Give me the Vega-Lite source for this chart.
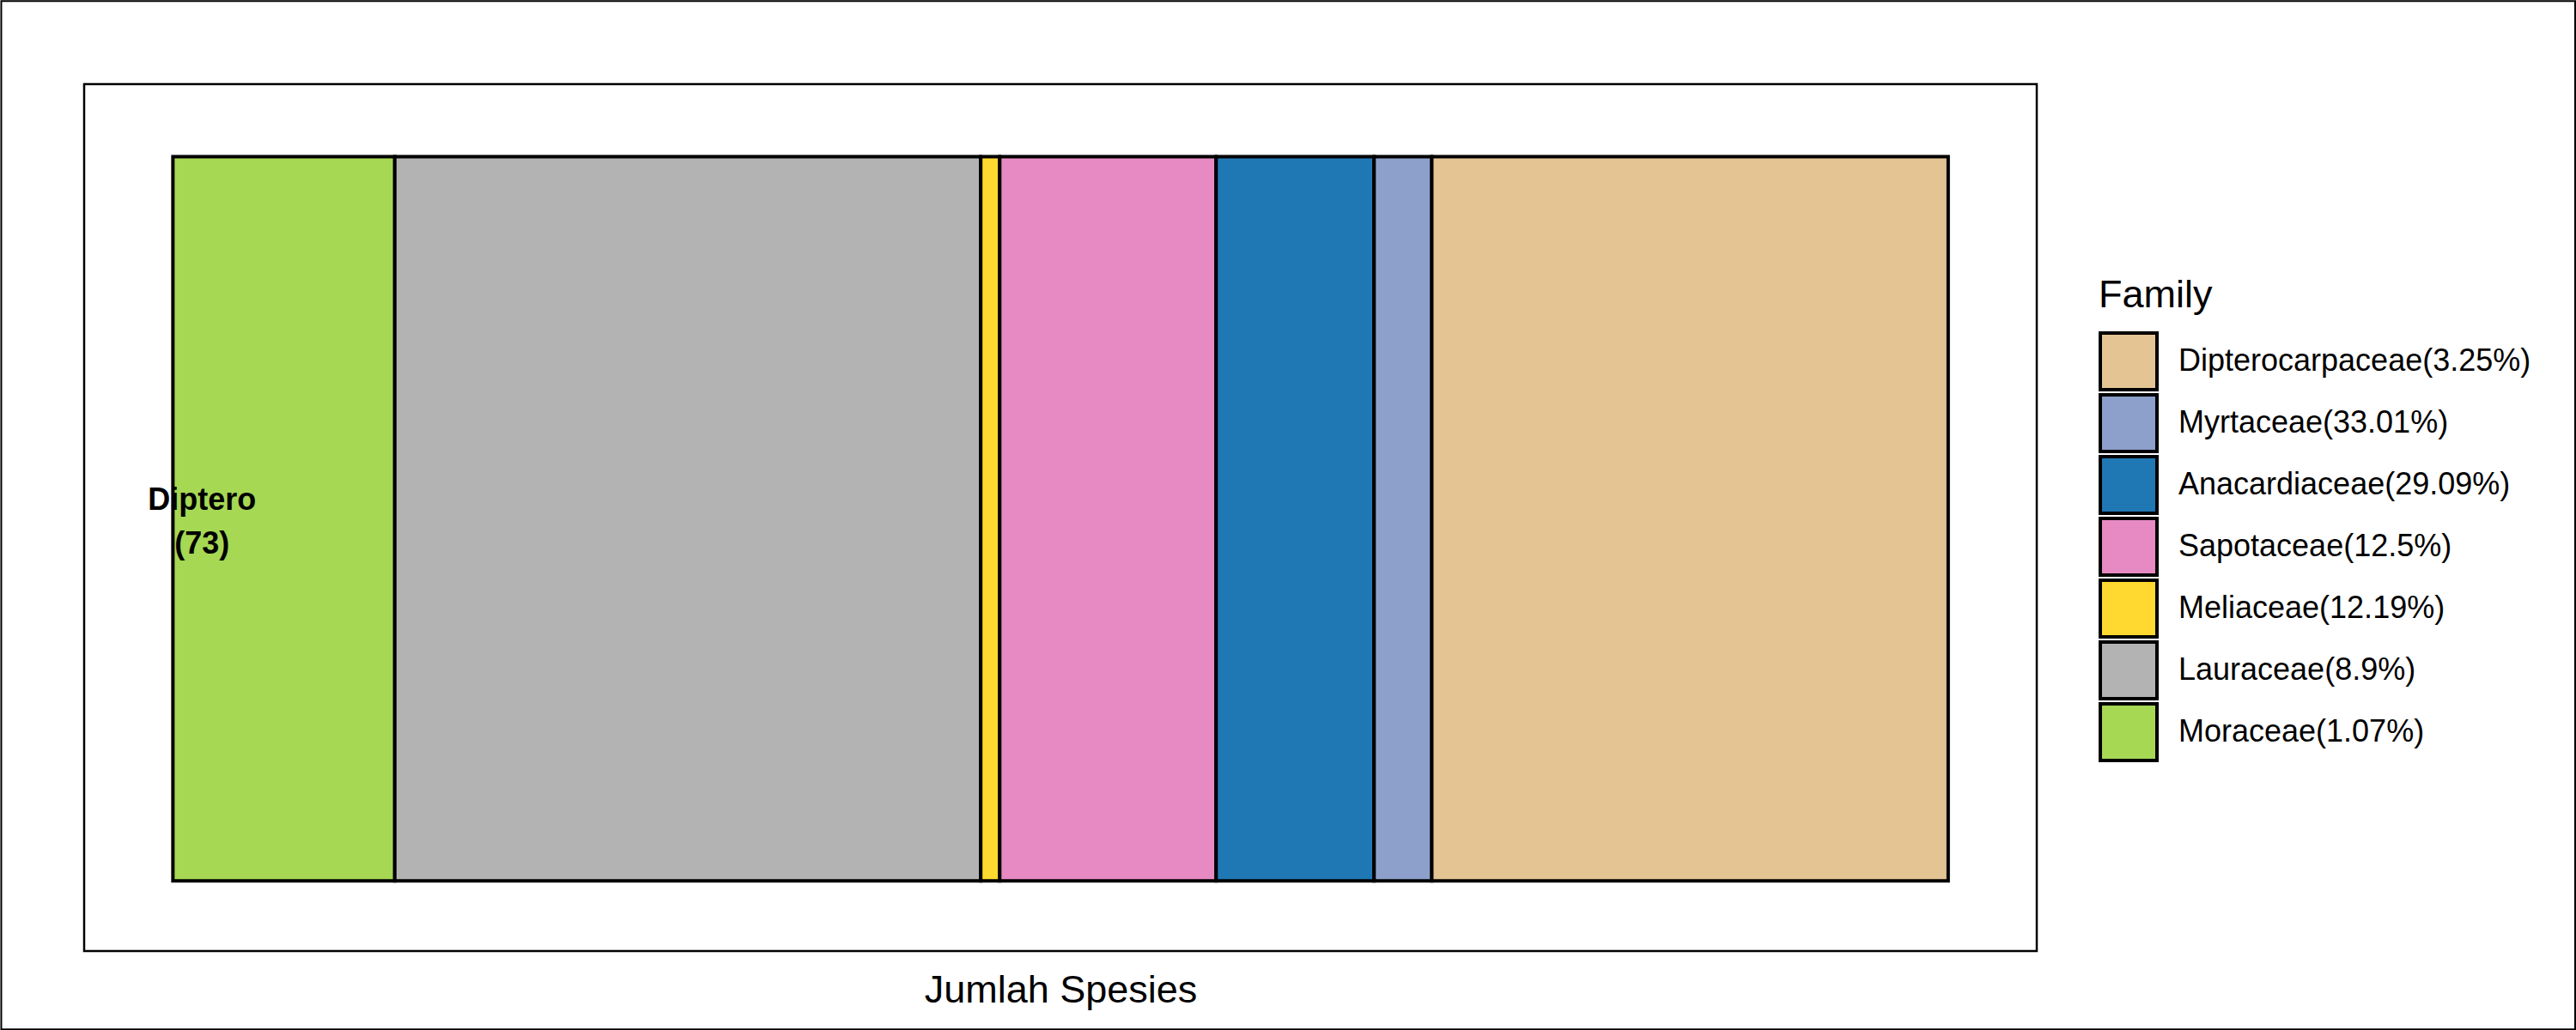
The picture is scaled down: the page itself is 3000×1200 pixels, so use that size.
{
  "$schema": "https://vega.github.io/schema/vega-lite/v6.json",
  "width": 2274,
  "height": 1010,
  "autosize": "none",
  "padding": {"left": 98, "top": 98, "right": 628, "bottom": 92},
  "background": "white",
  "config": {
    "font": "Liberation Sans",
    "view": {"stroke": "black", "strokeWidth": 2.5}
  },
  "datasets": {
    "segments": [
      {"family": "Moraceae(1.07%)", "value": 12.5, "order": 1},
      {"family": "Lauraceae(8.9%)", "value": 33.01, "order": 2},
      {"family": "Meliaceae(12.19%)", "value": 1.07, "order": 3},
      {"family": "Sapotaceae(12.5%)", "value": 12.19, "order": 4},
      {"family": "Anacardiaceae(29.09%)", "value": 8.9, "order": 5},
      {"family": "Myrtaceae(33.01%)", "value": 3.25, "order": 6},
      {"family": "Dipterocarpaceae(3.25%)", "value": 29.09, "order": 7}
    ],
    "labels": [
      {"label": "Diptero\n(73)", "pos": 1.64, "mid": 0.5}
    ]
  },
  "layer": [
    {
      "data": {"name": "segments"},
      "transform": [
        {"stack": "value", "groupby": [], "sort": [{"field": "order"}], "as": ["x0", "x1"]}
      ],
      "mark": {"type": "rect", "stroke": "black", "strokeWidth": 4},
      "encoding": {
        "x": {"field": "x0", "type": "quantitative", "scale": {"domain": [-5, 105], "nice": false, "zero": false},
              "axis": {"labels": false, "ticks": false, "domain": false, "grid": false, "title": "Jumlah Spesies",
                       "titleFontSize": 45, "titleFontWeight": "normal", "titleColor": "black", "titlePadding": 23, "titleFont": "Liberation Sans"}},
        "x2": {"field": "x1"},
        "y": {"datum": 0, "type": "quantitative", "scale": {"domain": [-0.097, 1.1], "nice": false, "zero": false}, "axis": null},
        "y2": {"datum": 1},
        "color": {
          "field": "family", "type": "nominal",
          "scale": {
            "domain": ["Dipterocarpaceae(3.25%)", "Myrtaceae(33.01%)", "Anacardiaceae(29.09%)", "Sapotaceae(12.5%)", "Meliaceae(12.19%)", "Lauraceae(8.9%)", "Moraceae(1.07%)"],
            "range": ["#E5C494", "#8DA0CB", "#1F78B4", "#E78AC3", "#FFD92F", "#B3B3B3", "#A6D854"]
          },
          "legend": {
            "title": "Family", "orient": "none", "legendX": 2346, "legendY": 224,
            "titleFontSize": 45, "titleFontWeight": "normal", "titleColor": "black", "titlePadding": 19, "titleFont": "Liberation Sans",
            "labelFontSize": 36, "labelColor": "black", "labelOffset": 23, "labelFont": "Liberation Sans", "labelLimit": 1000,
            "symbolType": "square", "symbolSize": 4356, "symbolStrokeColor": "black", "symbolStrokeWidth": 4, "symbolOpacity": 1,
            "clipHeight": 70, "rowPadding": 2, "padding": 0
          }
        },
        "order": {"field": "order"}
      }
    },
    {
      "data": {"name": "labels"},
      "mark": {"type": "text", "font": "Liberation Sans", "fontWeight": "bold", "fontSize": 36, "lineBreak": "\n", "lineHeight": 51, "align": "center", "baseline": "middle", "color": "black", "dy": -21},
      "encoding": {
        "x": {"field": "pos", "type": "quantitative", "scale": {"domain": [-5, 105], "nice": false, "zero": false}},
        "y": {"field": "mid", "type": "quantitative", "scale": {"domain": [-0.097, 1.1], "nice": false, "zero": false}},
        "text": {"field": "label"}
      }
    },
    {
      "data": {"values": [{}]},
      "mark": {"type": "rect", "fillOpacity": 0, "stroke": "black", "strokeWidth": 2, "clip": false},
      "encoding": {
        "x": {"datum": -9.67, "type": "quantitative", "scale": {"domain": [-5, 105], "nice": false, "zero": false}},
        "x2": {"datum": 135.33},
        "y": {"datum": -0.205, "type": "quantitative", "scale": {"domain": [-0.097, 1.1], "nice": false, "zero": false}},
        "y2": {"datum": 1.2148}
      }
    }
  ]
}
